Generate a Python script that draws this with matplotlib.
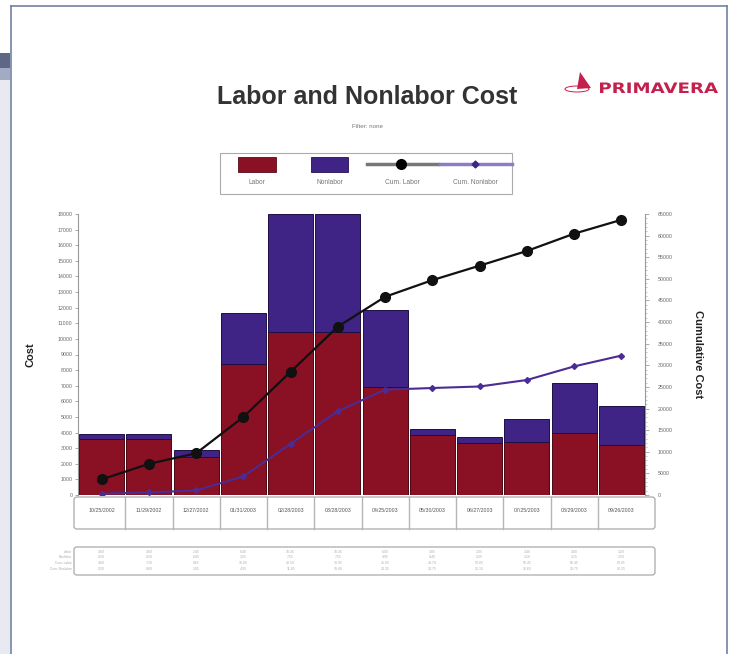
import numpy as np
import matplotlib
matplotlib.use("Agg")
import matplotlib.pyplot as plt
from matplotlib.patches import FancyBboxPatch, Rectangle, Polygon, Ellipse, PathPatch
from matplotlib.lines import Line2D
from matplotlib.textpath import TextPath
from matplotlib.font_manager import FontProperties
from matplotlib.transforms import Affine2D

plt.rcParams['font.family'] = ['Liberation Sans', 'DejaVu Sans']

# ---- data ------------------------------------------------------------------
dates = ["10/25/2002", "11/29/2002", "12/27/2002", "01/31/2003", "02/28/2003",
         "03/28/2003", "04/25/2003", "05/30/2003", "06/27/2003", "07/25/2003",
         "08/29/2003", "09/26/2003"]
labor = [3600, 3600, 2450, 8400, 10450, 10450, 6900, 3850, 3350, 3400, 4000, 3200]
nonlabor = [300, 300, 450, 3250, 7550, 7550, 4950, 400, 350, 1500, 3150, 2500]
cum_labor = np.cumsum(labor)
cum_nonlabor = np.cumsum(nonlabor)

left_ticks = list(range(0, 18001, 1000))
right_ticks = list(range(0, 65001, 5000))

C_LAB = "#8a1024"
C_NON = "#3f2486"
W, H = 729, 654


def fx(px):
    return px / W


def fy(py):
    return 1 - py / H


fig = plt.figure(figsize=(7.29, 6.54), dpi=100)

# ---- page frame --------------------------------------------------------------
fig.add_artist(Rectangle((0, fy(H)), fx(10), fy(80) - fy(H), transform=fig.transFigure,
                         fc="#e9e9f1", ec="none"))
fig.add_artist(Rectangle((0, fy(68)), fx(10), fy(53) - fy(68), transform=fig.transFigure,
                         fc="#5d6888", ec="none"))
fig.add_artist(Rectangle((0, fy(80)), fx(10), fy(68) - fy(80), transform=fig.transFigure,
                         fc="#a3abc4", ec="none"))
fig.add_artist(Line2D([fx(10.5), fx(10.5)], [fy(6), 0], transform=fig.transFigure,
                      color="#7282a4", lw=1.2))
fig.add_artist(Line2D([fx(10.5), fx(727)], [fy(6), fy(6)], transform=fig.transFigure,
                      color="#7282a4", lw=1.2))
fig.add_artist(Line2D([fx(727), fx(727)], [fy(6), 0], transform=fig.transFigure,
                      color="#7282a4", lw=1.2))

# ---- titles / logo -------------------------------------------------------------
fig.text(fx(367), fy(97), "Labor and Nonlabor Cost", ha="center", va="center",
         fontsize=18, fontweight="bold", color="#333333")
fig.text(fx(367), fy(127), "Filter: none", ha="center", va="center",
         fontsize=4.5, color="#777777")

# logo word, stretched horizontally (pixel coords, y up)
tp = TextPath((0, 0), "PRIMAVERA", size=14,
              prop=FontProperties(family="DejaVu Sans", weight="bold"))
ext = tp.get_extents()
sx = 118 / ext.width
sy = 10.5 / ext.height
tr = Affine2D().translate(-ext.x0, -ext.y0).scale(sx, sy).translate(600, H - 93)
fig.add_artist(PathPatch(tr.transform_path(tp), fc="#c4204c", ec="none",
                         transform=None))
fig.add_artist(Polygon([[fx(580), fy(72)], [fx(577), fy(89)], [fx(591), fy(88)]],
                       closed=True, transform=fig.transFigure, fc="#c4204c", ec="none"))
fig.add_artist(Ellipse((fx(577), fy(89)), fx(24), fy(82) - fy(88), transform=fig.transFigure,
                       fc="none", ec="#c4204c", lw=0.7))

# ---- legend box ----------------------------------------------------------------
fig.add_artist(Rectangle((fx(220), fy(194)), fx(292), fy(153) - fy(194),
                         transform=fig.transFigure, fc="white", ec="#aaaaaa", lw=0.8))
fig.add_artist(Rectangle((fx(238), fy(172)), fx(38), fy(157) - fy(172),
                         transform=fig.transFigure, fc=C_LAB, ec="#5a0a18", lw=0.6))
fig.add_artist(Rectangle((fx(311), fy(172)), fx(37), fy(157) - fy(172),
                         transform=fig.transFigure, fc=C_NON, ec="#22124f", lw=0.6))
fig.add_artist(Line2D([fx(367), fx(438)], [fy(164), fy(164)], transform=fig.transFigure,
                      color="#777777", lw=2.5))
fig.add_artist(Line2D([fx(401)], [fy(164)], transform=fig.transFigure, marker="o",
                      color="black", markersize=7))
fig.add_artist(Line2D([fx(440), fx(512)], [fy(164), fy(164)], transform=fig.transFigure,
                      color="#8f7cc6", lw=2.5))
fig.add_artist(Line2D([fx(475)], [fy(164)], transform=fig.transFigure, marker="D",
                      color=C_NON, markersize=3.5))
for x, t in [(257, "Labor"), (330, "Nonlabor"), (402, "Cum. Labor"), (475, "Cum. Nonlabor")]:
    fig.text(fx(x), fy(183), t, ha="center", va="center", fontsize=4.8, color="#777777")

# ---- main plot -------------------------------------------------------------------
ax = fig.add_axes([fx(78), fy(495), fx(645) - fx(78), fy(214) - fy(495)])
x = np.arange(len(dates))
ax.bar(x, labor, width=0.95, color=C_LAB, edgecolor="#4a0812", lw=0.7, zorder=2)
ax.bar(x, nonlabor, bottom=labor, width=0.95, color=C_NON, edgecolor="#1c0f45",
       lw=0.7, zorder=2)
ax.set_xlim(-0.5, len(dates) - 0.5)
ax.set_ylim(0, 18000)
ax.set_yticks(left_ticks)
ax.set_yticklabels([str(v) for v in left_ticks], fontsize=3.8, color="#666666")
ax.tick_params(axis="y", length=2, width=0.5, color="#888888", pad=2)
ax.set_xticks([])
for s in ["top", "right", "bottom"]:
    ax.spines[s].set_visible(False)
ax.spines["left"].set_color("#999999")
ax.spines["left"].set_linewidth(0.8)
ax.set_ylabel("Cost", fontsize=8, fontweight="bold", color="#222222", labelpad=16)

ax2 = ax.twinx()
ax2.set_ylim(0, 65000)
ax2.plot(x, cum_labor, color="#111111", lw=1.6, marker="o", markersize=7, zorder=4)
ax2.plot(x, cum_nonlabor, color="#4a2c94", lw=1.5, marker="D", markersize=3, zorder=4)
ax2.set_yticks(right_ticks)
ax2.set_yticklabels([str(v) for v in right_ticks], fontsize=3.8, color="#666666")
ax2.set_yticks(list(range(0, 65001, 1000)), minor=True)
ax2.tick_params(axis="y", which="major", length=3, width=0.5, color="#888888", pad=6)
ax2.tick_params(axis="y", which="minor", length=1.5, width=0.4, color="#999999")
for s in ["top", "left", "bottom"]:
    ax2.spines[s].set_visible(False)
ax2.spines["right"].set_color("#999999")
ax2.spines["right"].set_linewidth(0.8)
ax2.set_ylabel("Cumulative Cost", fontsize=8, fontweight="bold", color="#222222",
               rotation=-90, labelpad=22)

# ---- date row ----------------------------------------------------------------------
fig.add_artist(FancyBboxPatch((fx(74), fy(529)), fx(655) - fx(74), fy(497) - fy(529),
                              boxstyle="round,pad=0,rounding_size=0.004",
                              transform=fig.transFigure, fc="white", ec="#aaaaaa", lw=0.9))
slot = (645 - 78) / len(dates)
for i, d in enumerate(dates):
    cx = 78 + slot * (i + 0.5)
    fig.text(fx(cx), fy(511), d, ha="center", va="center", fontsize=3.8, color="#555555")
    if i > 0:
        bx = 78 + slot * i
        fig.add_artist(Line2D([fx(bx), fx(bx)], [fy(497), fy(529)],
                              transform=fig.transFigure, color="#b5b5b5", lw=1.0))

# ---- data table ----------------------------------------------------------------------
fig.add_artist(FancyBboxPatch((fx(74), fy(575)), fx(655) - fx(74), fy(547) - fy(575),
                              boxstyle="round,pad=0,rounding_size=0.004",
                              transform=fig.transFigure, fc="white", ec="#aaaaaa", lw=0.9))
rows = [labor, nonlabor, cum_labor, cum_nonlabor]
row_names = ["Labor", "Nonlabor", "Cum. Labor", "Cum. Nonlabor"]
for r, (vals, name) in enumerate(zip(rows, row_names)):
    yy = 552 + r * 5.5
    fig.text(fx(72), fy(yy), name, ha="right", va="center", fontsize=2.3, color="#aaaaaa")
    for i, v in enumerate(vals):
        cx = 78 + slot * (i + 0.5)
        fig.text(fx(cx), fy(yy), f"{v/1000:.2f}", ha="center", va="center",
                 fontsize=2.5, color="#b0b0b0")

fig.savefig("out.png", dpi=100)
